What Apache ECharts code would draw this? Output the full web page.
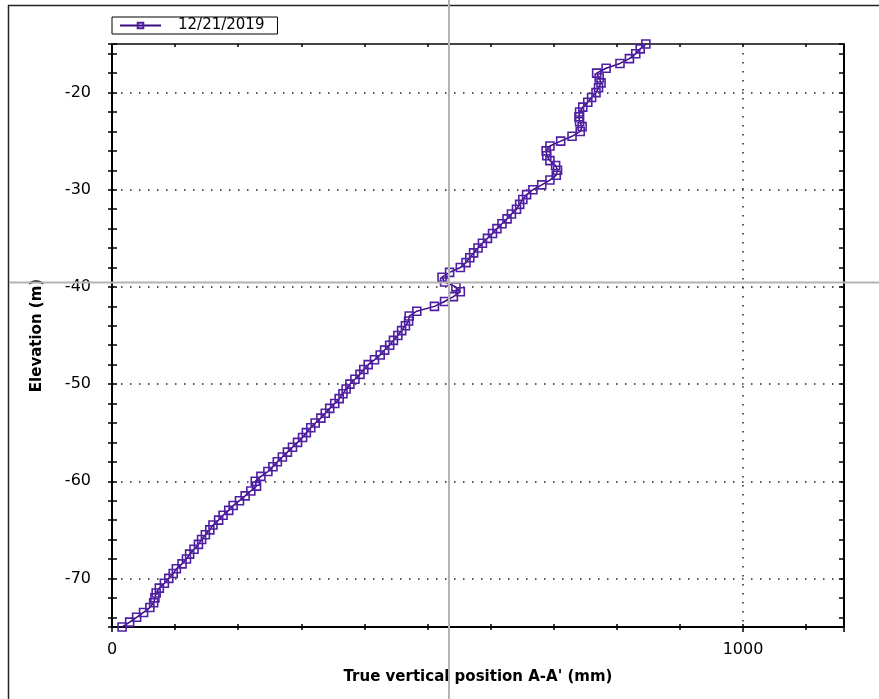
<!DOCTYPE html>
<html><head><meta charset="utf-8">
<script src="https://cdn.jsdelivr.net/npm/echarts@6/dist/echarts.min.js"></script>
<style>html,body{margin:0;padding:0;background:#fff}#c{width:879px;height:699px}</style>
</head><body><div id="c"></div>
<script>
const seriesName = '12/21/2019';
const elevation = [
  -75, -74.5, -74, -73.5, -73, -72.5, -72, -71.5, -71, -70.5,
  -70, -69.5, -69, -68.5, -68, -67.5, -67, -66.5, -66, -65.5,
  -65, -64.5, -64, -63.5, -63, -62.5, -62, -61.5, -61, -60.5,
  -60, -59.5, -59, -58.5, -58, -57.5, -57, -56.5, -56, -55.5,
  -55, -54.5, -54, -53.5, -53, -52.5, -52, -51.5, -51, -50.5,
  -50, -49.5, -49, -48.5, -48, -47.5, -47, -46.5, -46, -45.5,
  -45, -44.5, -44, -43.5, -43, -42.5, -42, -41.5, -41, -40.5,
  -40, -39.5, -39, -38.5, -38, -37.5, -37, -36.5, -36, -35.5,
  -35, -34.5, -34, -33.5, -33, -32.5, -32, -31.5, -31, -30.5,
  -30, -29.5, -29, -28.5, -28, -27.5, -27, -26.5, -26, -25.5,
  -25, -24.5, -24, -23.5, -23, -22.5, -22, -21.5, -21, -20.5,
  -20, -19.5, -19, -18.5, -18, -17.5, -17, -16.5, -16, -15.5,
  -15
];
const position = [
  16, 28, 39, 50, 60, 66, 68, 70, 75, 83,
  90, 97, 102, 111, 118, 123, 130, 137, 142, 148,
  155, 160, 169, 176, 185, 192, 202, 211, 220, 229,
  227, 236, 247, 255, 262, 270, 278, 286, 294, 302,
  308, 315, 322, 331, 338, 345, 353, 360, 366, 371,
  377, 385, 393, 399, 406, 416, 425, 432, 440, 446,
  453, 459, 465, 470, 471, 483, 511, 527, 541, 552,
  545, 527, 523, 535, 552, 561, 567, 573, 580, 587,
  595, 603, 610, 618, 626, 633, 641, 646, 651, 657,
  667, 681, 694, 704, 706, 703, 694, 689, 688, 694,
  711, 729, 742, 745, 741, 740, 741, 746, 754, 760,
  767, 771, 775, 772, 768, 783, 805, 820, 830, 837,
  846
];
const xTickLabels = [0, 1000];
const yTickLabels = [-70, -60, -50, -40, -30, -20];
const xRange = [0, 1160];
const yRange = [-75, -15];
const cursor = [534, -39.5];

const chart = echarts.init(document.getElementById('c'), null, {renderer: 'canvas'});
const font = 'DejaVu Sans';
const dotted = {color: '#222', width: 1.5, type: [1.5, 7.5]};

function xAx(extra) {
  return Object.assign({
    type: 'value', min: xRange[0], max: xRange[1], interval: 1000,
    axisLine: {show: false}, axisLabel: {show: false}, splitLine: {show: false},
    axisTick: {show: true, length: 3, inside: true, lineStyle: {color: '#000', width: 1.5}},
    minorTick: {show: true, splitNumber: 10, length: 3, lineStyle: {color: '#000', width: 1.5}},
    minorSplitLine: {show: false}
  }, extra);
}
function yAx(extra) {
  return Object.assign({
    type: 'value', min: yRange[0], max: yRange[1], splitNumber: 6,
    axisLine: {show: false}, axisLabel: {show: false}, splitLine: {show: false},
    axisTick: {show: true, length: 5, inside: true, lineStyle: {color: '#000', width: 1.5}},
    minorTick: {show: true, splitNumber: 5, length: 5, lineStyle: {color: '#000', width: 1.5}},
    minorSplitLine: {show: false}
  }, extra);
}

const option = {
  animation: false,
  backgroundColor: '#fff',
  grid: {left: 112, right: 35, top: 44, bottom: 72, containLabel: false, outerBoundsMode: 'none'},
  legend: {
    left: 112, top: 17, orient: 'horizontal',
    padding: [1, 13, 1, 7],
    borderColor: '#000', borderWidth: 1, backgroundColor: '#fff',
    itemWidth: 41, itemHeight: 7, itemGap: 0,
    textStyle: {fontFamily: font, fontSize: 15, color: '#000', padding: [0, 0, 0, 12]},
    data: [seriesName]
  },
  xAxis: [
    xAx({
      position: 'bottom',
      axisLine: {show: true, onZero: false, lineStyle: {color: '#000', width: 2}},
      axisTick: {show: true, length: 5, inside: false, lineStyle: {color: '#000', width: 1.5}},
      minorTick: {show: true, splitNumber: 10, length: 3, lineStyle: {color: '#000', width: 1.5}},
      axisLabel: {show: true, margin: 15, fontFamily: font, fontSize: 16, color: '#000',
        formatter: v => xTickLabels.includes(v) ? String(v) : ''},
      splitLine: {show: true, lineStyle: dotted},
      name: "True vertical position A-A' (mm)",
      nameLocation: 'middle', nameGap: 43, nameMoveOverlap: false,
      nameTextStyle: {fontFamily: font, fontSize: 15, fontWeight: 'bold', color: '#000'}
    }),
    xAx({position: 'bottom'}),
    xAx({position: 'top', axisLine: {show: true, onZero: false, lineStyle: {color: '#444', width: 2}}})
  ],
  yAxis: [
    yAx({
      position: 'left',
      axisLine: {show: true, onZero: false, lineStyle: {color: '#000', width: 2}},
      axisTick: {show: true, length: 4, inside: false, lineStyle: {color: '#000', width: 1.5}},
      minorTick: {show: true, splitNumber: 5, length: 4, lineStyle: {color: '#000', width: 1.5}},
      axisLabel: {show: true, margin: 21, fontFamily: font, fontSize: 16, color: '#000',
        showMinLabel: true, showMaxLabel: true,
        formatter: v => yTickLabels.includes(v) ? String(v) : ''},
      splitLine: {show: true, lineStyle: dotted},
      name: 'Elevation (m)',
      nameLocation: 'middle', nameGap: 67, nameMoveOverlap: false,
      nameTextStyle: {fontFamily: font, fontSize: 15, fontWeight: 'bold', color: '#000'}
    }),
    yAx({position: 'left'}),
    yAx({position: 'right', axisLine: {show: true, onZero: false, lineStyle: {color: '#000', width: 2}}})
  ],
  series: [{
    name: seriesName,
    type: 'line',
    xAxisIndex: 0, yAxisIndex: 0,
    data: elevation.map((e, i) => [position[i], e]),
    symbol: 'rect', symbolSize: 8, showSymbol: true, showAllSymbol: true,
    lineStyle: {color: '#380c80', width: 1.5},
    itemStyle: {color: 'rgba(255,255,255,0)', borderColor: '#4f1fa3', borderWidth: 1.6},
    emphasis: {disabled: true},
    z: 3
  }]
};
chart.setOption(option);

const p = chart.convertToPixel({xAxisIndex: 0, yAxisIndex: 0}, cursor);
const W = 879, H = 699;
chart.setOption({
  graphic: [
    {type: 'line', z: 100, silent: true, shape: {x1: 8.5, y1: 5, x2: 8.5, y2: H}, style: {stroke: '#222', lineWidth: 1.5}},
    {type: 'line', z: 100, silent: true, shape: {x1: 8, y1: 5.5, x2: W, y2: 5.5}, style: {stroke: '#222', lineWidth: 1.5}},
    {type: 'line', z: 100, silent: true, shape: {x1: 9, y1: Math.round(p[1]) + 0.5, x2: W, y2: Math.round(p[1]) + 0.5}, style: {stroke: '#b4b4b4', lineWidth: 2}},
    {type: 'line', z: 100, silent: true, shape: {x1: Math.round(p[0]), y1: 0, x2: Math.round(p[0]), y2: H}, style: {stroke: '#b4b4b4', lineWidth: 2}}
  ]
});
</script>
</body></html>
